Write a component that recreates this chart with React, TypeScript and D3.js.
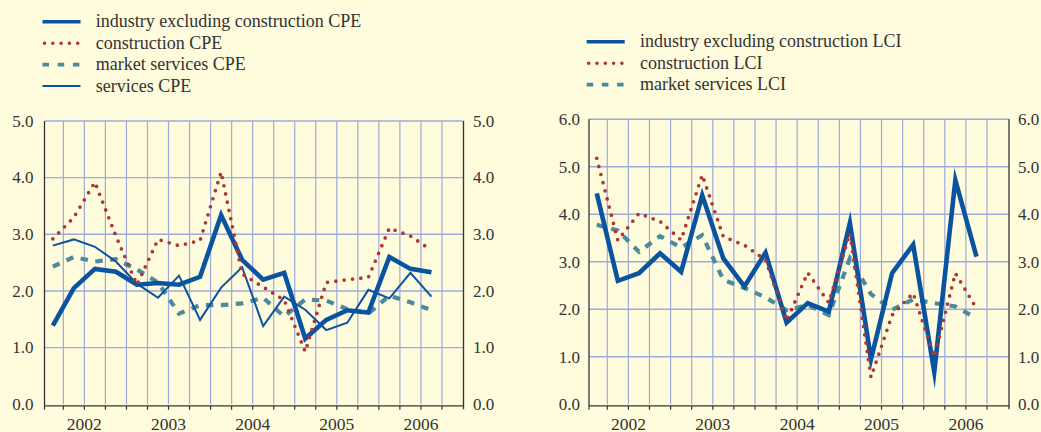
import React from 'react';
import * as d3 from 'd3';

// ---------- data ----------
const years = ['2002', '2003', '2004', '2005', '2006'];
const quarters = ['Q1', 'Q2', 'Q3', 'Q4'];
const periods = years.flatMap((y) => quarters.map((q) => `${y} ${q}`));

const cpeTicks = [0, 1, 2, 3, 4, 5];
const lciTicks = [0, 1, 2, 3, 4, 5, 6];

const industryCPE = [1.39, 2.05, 2.39, 2.34, 2.11, 2.14, 2.11, 2.25, 3.34, 2.55, 2.2, 2.32, 1.16, 1.49, 1.66, 1.62, 2.6, 2.39, 2.33];
const constructionCPE = [2.92, 3.3, 3.92, 2.97, 2.11, 2.91, 2.8, 2.89, 4.1, 2.3, 2.07, 1.84, 0.93, 2.15, 2.2, 2.24, 3.11, 2.97, 2.72];
const marketServicesCPE = [2.43, 2.6, 2.52, 2.56, 2.38, 2.15, 1.6, 1.75, 1.75, 1.78, 1.88, 1.55, 1.85, 1.83, 1.68, 1.6, 1.92, 1.8, 1.66];
const servicesCPE = [2.8, 2.91, 2.78, 2.52, 2.13, 1.88, 2.27, 1.49, 2.06, 2.42, 1.38, 1.9, 1.67, 1.31, 1.44, 2.02, 1.87, 2.32, 1.9];

const industryLCI = [4.44, 2.6, 2.76, 3.18, 2.79, 4.4, 3.07, 2.48, 3.19, 1.72, 2.13, 1.95, 3.82, 0.95, 2.76, 3.36, 0.68, 4.72, 3.11];
const constructionLCI = [5.18, 3.45, 4.02, 3.85, 3.46, 4.83, 3.53, 3.35, 3.04, 1.76, 2.77, 2.14, 3.6, 0.57, 1.88, 2.34, 1.0, 2.76, 2.02];
const marketServicesLCI = [3.78, 3.66, 3.21, 3.54, 3.3, 3.56, 2.62, 2.45, 2.25, 1.98, 2.09, 1.88, 3.07, 2.32, 1.99, 2.21, 2.13, 2.06, 1.81];

const cpeLabels = ['industry excluding construction CPE', 'construction CPE', 'market services CPE', 'services CPE'];
const lciLabels = ['industry excluding construction LCI', 'construction LCI', 'market services LCI'];

// ---------- styles ----------
const BG = '#fffbdd';
const GRID = '#9eaad9';
const AXIS = '#333333';
const TEXT = '#333333';
const FONT = '"Liberation Serif", "Times New Roman", serif';

type Style = { stroke: string; width: number; dash?: string; cap?: string; legendWidth: number; legendDash?: string };
const STYLES: Record<string, Style> = {
  thick: { stroke: '#0a53a0', width: 4.6, legendWidth: 3.4 },
  dotted: { stroke: '#b0362f', width: 3.7, dash: '0 8.4', cap: 'round', legendWidth: 3.6, legendDash: '0 8.3' },
  dashed: { stroke: '#4b8a9b', width: 4.2, dash: '7.5 7.5', legendWidth: 3.6, legendDash: '6.5 8.7' },
  thin: { stroke: '#0a53a0', width: 2, legendWidth: 2 },
};

type Series = { values: number[]; style: string };

type ChartProps = {
  bandStart: number;
  bandEnd: number;
  axisL: number;
  axisR: number;
  yBottom: number;
  yTop: number;
  yMax: number;
  ticks: number[];
  series: Series[];
  leftLabelX: number;
  rightLabelX: number;
};

function Chart(p: ChartProps) {
  const x = d3.scaleBand<string>().domain(periods).range([p.bandStart, p.bandEnd]).padding(0);
  const y = d3.scaleLinear().domain([0, p.yMax]).range([p.yBottom, p.yTop]);
  const bw = x.bandwidth();
  const line = d3
    .line<number>()
    .x((_, i) => (x(periods[i]) as number) + bw / 2)
    .y((d) => y(d));
  const axisY = p.yBottom + 1.5;
  const boundaries = periods.slice(1).map((q) => x(q) as number);
  const fmt = d3.format('.1f');
  const drawOrder = ['dashed', 'thin', 'thick', 'dotted'];
  const sorted = [...p.series].sort((a, b) => drawOrder.indexOf(a.style) - drawOrder.indexOf(b.style));
  return (
    <g>
      {/* vertical grid */}
      {boundaries.map((bx, i) => (
        <line key={'v' + i} x1={bx} x2={bx} y1={p.yTop} y2={p.yBottom} stroke={GRID} strokeWidth={1.2} />
      ))}
      {/* horizontal grid */}
      {p.ticks.filter((t) => t > 0).map((t) => (
        <line key={'h' + t} x1={p.axisL} x2={p.axisR} y1={y(t)} y2={y(t)} stroke={GRID} strokeWidth={1.4} />
      ))}
      {/* axes */}
      <line x1={p.axisL} x2={p.axisL} y1={p.yTop} y2={axisY} stroke={AXIS} strokeWidth={1.3} />
      <line x1={p.axisR} x2={p.axisR} y1={p.yTop} y2={axisY + 3.5} stroke={AXIS} strokeWidth={1.3} />
      <line x1={p.axisL} x2={p.axisR} y1={axisY} y2={axisY} stroke={AXIS} strokeWidth={1.3} />
      {[p.axisL, ...boundaries].map((bx, i) => (
        <line key={'t' + i} x1={bx} x2={bx} y1={axisY} y2={axisY + 4} stroke={AXIS} strokeWidth={1.2} />
      ))}
      {/* tick labels */}
      {p.ticks.map((t) => (
        <g key={'l' + t}>
          <text x={p.leftLabelX} y={y(t) + 5.8} textAnchor="end" fontSize={17} fontFamily={FONT} fill={TEXT}>
            {fmt(t)}
          </text>
          <text x={p.rightLabelX} y={y(t) + 5.8} textAnchor="start" fontSize={17} fontFamily={FONT} fill={TEXT}>
            {fmt(t)}
          </text>
        </g>
      ))}
      {years.map((yr) => {
        const cx = (x(`${yr} Q2`) as number) + bw;
        return (
          <text key={yr} x={cx} y={429.5} textAnchor="middle" fontSize={17.5} fontFamily={FONT} fill={TEXT}>
            {yr}
          </text>
        );
      })}
      {/* series */}
      {sorted.map((s, i) => {
        const st = STYLES[s.style];
        return (
          <path
            key={'s' + i}
            d={line(s.values) || ''}
            fill="none"
            stroke={st.stroke}
            strokeWidth={st.width}
            strokeDasharray={st.dash}
            strokeLinecap={(st.cap as any) || 'butt'}
            strokeLinejoin="miter"
            strokeMiterlimit={10}
          />
        );
      })}
    </g>
  );
}

type LegendProps = { x: number; y: number; labels: string[]; styles: string[] };
function Legend({ x, y, labels, styles }: LegendProps) {
  const rowH = 21.4;
  return (
    <g>
      {labels.map((lab, i) => {
        const st = STYLES[styles[i]];
        const ry = y + i * rowH;
        const isDot = styles[i] === 'dotted';
        return (
          <g key={lab}>
            <line
              x1={isDot ? x + 2 : x}
              x2={x + 38}
              y1={ry}
              y2={ry}
              stroke={st.stroke}
              strokeWidth={st.legendWidth}
              strokeDasharray={st.legendDash}
              strokeLinecap={(st.cap as any) || 'butt'}
            />
            <text x={x + 53.3} y={ry + 5.5} fontSize={18} fontFamily={FONT} fill={TEXT}>
              {lab}
            </text>
          </g>
        );
      })}
    </g>
  );
}

export default function App() {
  return (
    <svg
      width={1041}
      height={432}
      style={{ position: 'absolute', left: 0, top: 0, display: 'block' }}
      xmlns="http://www.w3.org/2000/svg"
    >
      <rect x={0} y={0} width={1041} height={432} fill={BG} />
      <Legend x={42.5} y={21.8} labels={cpeLabels} styles={['thick', 'dotted', 'dashed', 'thin']} />
      <Legend x={586.7} y={41.8} labels={lciLabels} styles={['thick', 'dotted', 'dashed']} />
      <Chart
        bandStart={42.3}
        bandEnd={463}
        axisL={44.5}
        axisR={463.5}
        yBottom={404.3}
        yTop={121}
        yMax={5}
        ticks={cpeTicks}
        leftLabelX={33.5}
        rightLabelX={473}
        series={[
          { values: marketServicesCPE, style: 'dashed' },
          { values: servicesCPE, style: 'thin' },
          { values: industryCPE, style: 'thick' },
          { values: constructionCPE, style: 'dotted' },
        ]}
      />
      <Chart
        bandStart={586.2}
        bandEnd={1008.1}
        axisL={589}
        axisR={1009}
        yBottom={404.3}
        yTop={119.3}
        yMax={6}
        ticks={lciTicks}
        leftLabelX={580}
        rightLabelX={1018}
        series={[
          { values: marketServicesLCI, style: 'dashed' },
          { values: industryLCI, style: 'thick' },
          { values: constructionLCI, style: 'dotted' },
        ]}
      />
    </svg>
  );
}
